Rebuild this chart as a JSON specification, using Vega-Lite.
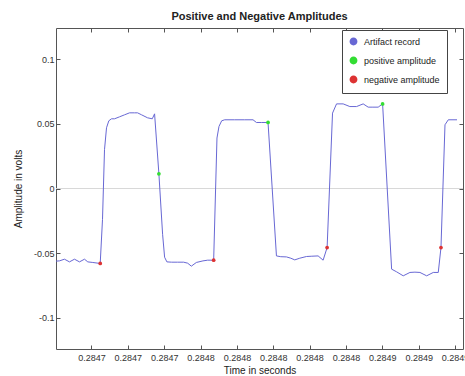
{
  "$schema": "https://vega.github.io/schema/vega-lite/v6.json",
  "width": 407,
  "height": 321,
  "autosize": {"type": "none"},
  "padding": {"left": 56, "top": 28, "right": 2, "bottom": 27},
  "background": "white",
  "title": {"text": "Positive and Negative Amplitudes", "font": "Liberation Sans", "fontSize": 11, "fontWeight": "bold", "color": "#222", "offset": 6},
  "config": {
    "view": {"stroke": "#555", "strokeWidth": 1},
    "axis": {"labelFont": "Liberation Sans", "titleFont": "Liberation Sans", "labelFontSize": 9, "titleFontSize": 10, "titleFontWeight": "normal", "labelColor": "#333", "titleColor": "#222", "tickColor": "#555", "domain": false, "grid": false, "tickSize": -4}
  },
  "datasets": {
    "trace": [
      {"t": 0.284680165, "v": -0.05615},
      {"t": 0.284682369, "v": -0.05592},
      {"t": 0.284685124, "v": -0.05462},
      {"t": 0.284687879, "v": -0.05669},
      {"t": 0.284690634, "v": -0.05462},
      {"t": 0.284693388, "v": -0.05669},
      {"t": 0.284696143, "v": -0.05462},
      {"t": 0.284697961, "v": -0.05669},
      {"t": 0.284700716, "v": -0.05715},
      {"t": 0.284704793, "v": -0.05792},
      {"t": 0.284706061, "v": -0.02385},
      {"t": 0.284707162, "v": 0.03},
      {"t": 0.284708264, "v": 0.04692},
      {"t": 0.284709532, "v": 0.05231},
      {"t": 0.284711019, "v": 0.05385},
      {"t": 0.284712672, "v": 0.05385},
      {"t": 0.284715427, "v": 0.05538},
      {"t": 0.284718182, "v": 0.05692},
      {"t": 0.284720937, "v": 0.05846},
      {"t": 0.284723691, "v": 0.05846},
      {"t": 0.284725344, "v": 0.05846},
      {"t": 0.284727548, "v": 0.05692},
      {"t": 0.284730854, "v": 0.05462},
      {"t": 0.284733443, "v": 0.05385},
      {"t": 0.28473471, "v": 0.05769},
      {"t": 0.28473708, "v": 0.01131},
      {"t": 0.284739118, "v": -0.03538},
      {"t": 0.28474022, "v": -0.05308},
      {"t": 0.284741487, "v": -0.05669},
      {"t": 0.284744077, "v": -0.05692},
      {"t": 0.284747383, "v": -0.05692},
      {"t": 0.284750688, "v": -0.05692},
      {"t": 0.284752892, "v": -0.05769},
      {"t": 0.284754931, "v": -0.06},
      {"t": 0.284757686, "v": -0.05715},
      {"t": 0.284761322, "v": -0.05592},
      {"t": 0.284763911, "v": -0.05538},
      {"t": 0.284767217, "v": -0.05538},
      {"t": 0.284769035, "v": 0.039},
      {"t": 0.284770137, "v": 0.04792},
      {"t": 0.284771625, "v": 0.05231},
      {"t": 0.284773278, "v": 0.05308},
      {"t": 0.284778787, "v": 0.05308},
      {"t": 0.284784297, "v": 0.05308},
      {"t": 0.28478887, "v": 0.05308},
      {"t": 0.284790743, "v": 0.051},
      {"t": 0.284793663, "v": 0.051},
      {"t": 0.284797134, "v": 0.051},
      {"t": 0.284801762, "v": -0.05208},
      {"t": 0.284804131, "v": -0.05269},
      {"t": 0.284807272, "v": -0.05285},
      {"t": 0.284809641, "v": -0.05385},
      {"t": 0.284811845, "v": -0.05515},
      {"t": 0.2848146, "v": -0.05385},
      {"t": 0.284818291, "v": -0.05254},
      {"t": 0.284821211, "v": -0.05231},
      {"t": 0.284824682, "v": -0.05208},
      {"t": 0.284827437, "v": -0.05538},
      {"t": 0.284829641, "v": -0.04562},
      {"t": 0.284832616, "v": 0.05823},
      {"t": 0.28483482, "v": 0.06538},
      {"t": 0.284838456, "v": 0.06538},
      {"t": 0.284842148, "v": 0.06331},
      {"t": 0.284845839, "v": 0.06331},
      {"t": 0.284849475, "v": 0.06538},
      {"t": 0.28485223, "v": 0.06285},
      {"t": 0.28485482, "v": 0.06285},
      {"t": 0.28485774, "v": 0.06285},
      {"t": 0.284860164, "v": 0.06538},
      {"t": 0.284865123, "v": -0.06231},
      {"t": 0.284867878, "v": -0.06438},
      {"t": 0.284871514, "v": -0.06746},
      {"t": 0.284875205, "v": -0.06485},
      {"t": 0.28487796, "v": -0.06462},
      {"t": 0.284880715, "v": -0.06485},
      {"t": 0.284884406, "v": -0.06746},
      {"t": 0.284888043, "v": -0.06485},
      {"t": 0.284890798, "v": -0.06485},
      {"t": 0.284892285, "v": -0.04562},
      {"t": 0.284894489, "v": 0.04923},
      {"t": 0.284896307, "v": 0.05308},
      {"t": 0.2849011, "v": 0.05308}
    ],
    "pos": [
      {"t": 0.28473708, "v": 0.01131},
      {"t": 0.284797134, "v": 0.051},
      {"t": 0.284860164, "v": 0.06538}
    ],
    "neg": [
      {"t": 0.284704793, "v": -0.05792},
      {"t": 0.284767217, "v": -0.05538},
      {"t": 0.284829641, "v": -0.04562},
      {"t": 0.284892285, "v": -0.04562}
    ],
    "zero": [{"v": 0}]
  },
  "resolve": {"axis": {"x": "independent", "y": "independent"}},
  "layer": [
    {
      "data": {"name": "zero"},
      "mark": {"type": "rule", "color": "#d8d8d8", "strokeWidth": 1},
      "encoding": {"y": {"field": "v", "type": "quantitative", "axis": null}}
    },
    {
      "data": {"name": "trace"},
      "mark": {"type": "line", "strokeWidth": 1, "clip": true, "interpolate": "linear"},
      "encoding": {
        "x": {"field": "t", "type": "quantitative", "scale": {"domain": [0.28468047, 0.2849044], "nice": false, "zero": false},
          "axis": {"orient": "bottom", "values": [0.2847, 0.28472, 0.28474, 0.28476, 0.28478, 0.2848, 0.28482, 0.28484, 0.28486, 0.28488, 0.2849], "format": ".4f", "title": "Time in seconds", "labelPadding": 8, "titlePadding": 3}},
        "y": {"field": "v", "type": "quantitative", "scale": {"domain": [-0.124, 0.124], "nice": false, "zero": false},
          "axis": {"orient": "left", "values": [-0.1, -0.05, 0, 0.05, 0.1], "labelExpr": "'' + datum.value", "title": "Amplitude in volts", "labelPadding": 6, "titlePadding": 10}},
        "color": {"datum": "Artifact record", "type": "nominal",
          "scale": {"domain": ["Artifact record", "positive amplitude", "negative amplitude"], "range": ["#6868d4", "#33dd33", "#dd3333"]},
          "legend": {
            "title": null, "orient": "none", "legendX": 286, "legendY": 2,
            "fillColor": "white", "strokeColor": "#444", "padding": 7,
            "labelFont": "Liberation Sans", "labelFontSize": 9, "labelColor": "#222",
            "rowPadding": 6, "labelOffset": 6, "symbolSize": 40}}
      }
    },
    {
      "data": {"name": "pos"},
      "mark": {"type": "point", "filled": true, "size": 14, "opacity": 1},
      "encoding": {
        "x": {"field": "t", "type": "quantitative",
          "axis": {"orient": "top", "values": [0.2847, 0.28472, 0.28474, 0.28476, 0.28478, 0.2848, 0.28482, 0.28484, 0.28486, 0.28488, 0.2849], "labels": false, "title": null}},
        "y": {"field": "v", "type": "quantitative",
          "axis": {"orient": "right", "values": [-0.1, -0.05, 0, 0.05, 0.1], "labels": false, "title": null}},
        "color": {"datum": "positive amplitude", "type": "nominal"}
      }
    },
    {
      "data": {"name": "neg"},
      "mark": {"type": "point", "filled": true, "size": 14, "opacity": 1},
      "encoding": {
        "x": {"field": "t", "type": "quantitative", "axis": null},
        "y": {"field": "v", "type": "quantitative", "axis": null},
        "color": {"datum": "negative amplitude", "type": "nominal"}
      }
    }
  ]
}
